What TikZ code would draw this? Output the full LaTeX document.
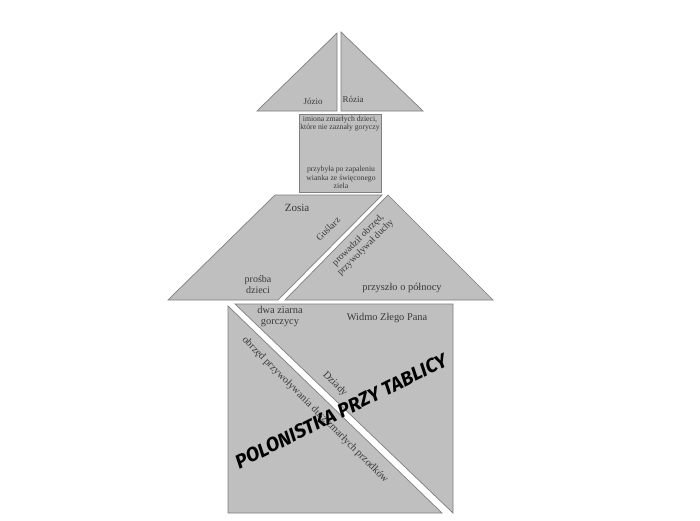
\documentclass[tikz,border=0pt]{standalone}
\usepackage{fontspec}
\setmainfont{Liberation Serif}
\newfontfamily\handfont{Fira Sans}
\definecolor{pieceFill}{HTML}{BFBFBF}
\definecolor{pieceEdge}{HTML}{7F7F7F}
\definecolor{labText}{HTML}{3A3A3A}
\begin{document}
\begin{tikzpicture}[x=1pt,y=-1pt,
  piece/.style={fill=pieceFill, draw=pieceEdge, line width=0.7pt, line join=miter},
  lab/.style={text=labText, inner sep=0pt, align=center, font=\fontsize{7.7}{8.3}\selectfont},
  labn/.style={lab, font=\fontsize{9}{10}\selectfont},
  labg/.style={lab, font=\fontsize{9.5}{10.5}\selectfont},
  labm/.style={lab, font=\fontsize{10.4}{11}\selectfont},
  labl/.style={lab, font=\fontsize{10}{11}\selectfont},
  labz/.style={lab, font=\fontsize{11}{12}\selectfont},
  hand/.style={text=black, inner sep=0pt, font=\handfont\bfseries\itshape\fontsize{19.5}{20}\selectfont}
]
\useasboundingbox (0,0) rectangle (700,520);
\fill[white] (0,0) rectangle (700,520);
% roof triangles
\draw[piece] (257,111) -- (337,111) -- (337,33) -- cycle;
\draw[piece] (341,111) -- (341,32) -- (423,111) -- cycle;
% chimney square
\draw[piece] (299,114) rectangle (381,192);
% parallelogram
\draw[piece] (168,300) -- (278,300) -- (382,195) -- (275,195) -- cycle;
% middle triangle
\draw[piece] (285,300) -- (388,195) -- (493,300) -- cycle;
% big square halves
\draw[piece] (235,304) -- (453,304) -- (453,513) -- cycle;
\draw[piece] (228,306) -- (228,513) -- (442,513) -- cycle;
% labels
\node[labn] (jozio) at (313,101) {Józio};
\node[labn] (rozia) at (353,99) {Rózia};
\node[lab] (imiona) at (340,123.5) {imiona zmarłych dzieci,\\które nie zaznały goryczy};
\node[lab] (przybyla) at (341,177.5) {przybyła po zapaleniu\\wianka ze święconego\\ziela};
\node[labz] (zosia) at (297,208) {Zosia};
\node[labg, rotate=45] (guslarz) at (328,229) {Guślarz};
\node[labg, rotate=45] (prowadzil) at (362,244) {prowadził obrzęd,\\przywoływał duchy};
\node[labl] (prosba) at (258,285) {prośba\\dzieci};
\node[labm] (przyszlo) at (402,288) {przyszło o północy};
\node[labm] (dwa) at (280,316.5) {dwa ziarna\\gorczycy};
\node[labm] (widmo) at (387,318) {Widmo Złego Pana};
\node[labm, rotate=-45] (obrzed) at (315,410) {obrzęd przywoływania dusz zmarłych przodków};
\node[labm, rotate=-45] (dziady) at (335,384) {Dziady};
\node[hand, rotate=26.4] (polonistka) at (341,411) {POLONISTKA PRZY TABLICY};
\end{tikzpicture}
\end{document}
